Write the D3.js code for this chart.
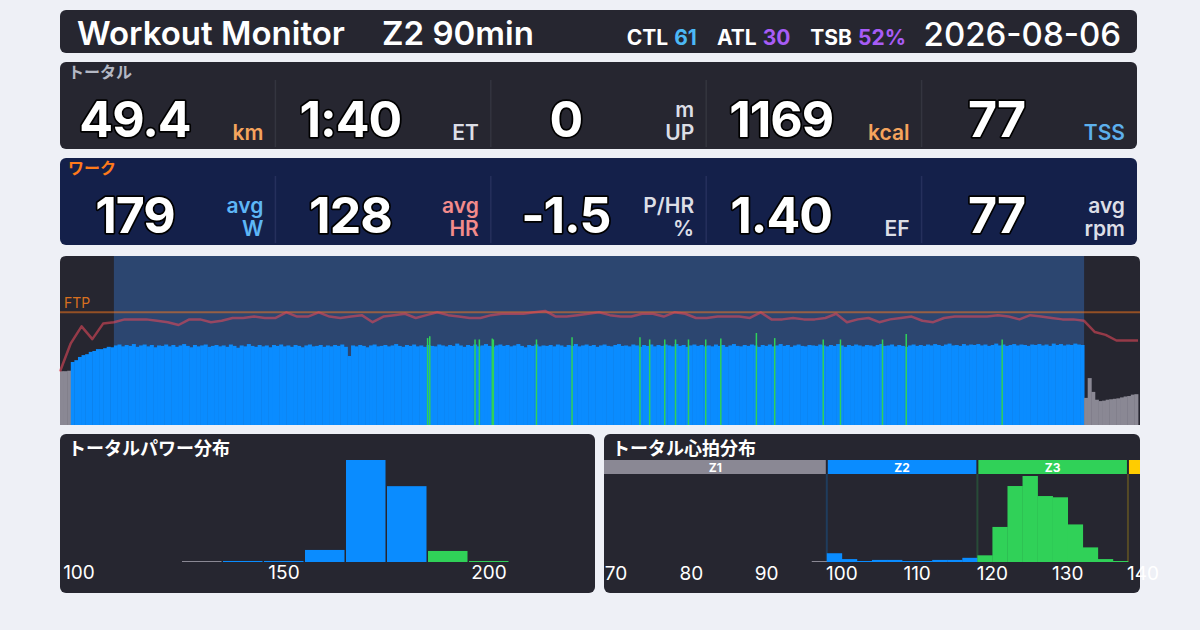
<!DOCTYPE html>
<html>
<head>
<meta charset="utf-8">
<script src="https://cdn.jsdelivr.net/npm/d3@7"></script>
<style>
body { margin: 0; background: #eef0f6; }
svg { display: block; font-family: Inter, "Noto Sans CJK JP", sans-serif; }
</style>
</head>
<body>
<svg width="1200" height="630"></svg>
<script>
// Header data
const title = "Workout Monitor"
const workoutName = "Z2 90min"
const dateLabel = "2026-08-06"
const fitnessKeys = ["CTL", "ATL", "TSB"]
const fitnessValues = ["61", "30", "52%"]
const fitnessColors = ["#4cb8f5", "#a75cf6", "#a75cf6"]

// Stat rows
const totalLabel = "トータル"
const totalValues = ["49.4", "1:40", "0", "1169", "77"]
const totalUnits = [["km"], ["ET"], ["m", "UP"], ["kcal"], ["TSS"]]
const totalUnitColors = ["#f5a45d", "#dcdee6", "#dcdee6", "#f5a45d", "#5db0ec"]

const workLabel = "ワーク"
const workValues = ["179", "128", "-1.5", "1.40", "77"]
const workUnits = [["avg", "W"], ["avg", "HR"], ["P/HR", "%"], ["EF"], ["avg", "rpm"]]
const workUnitColors = ["#5db6f7", "#f28b8b", "#dcdee6", "#dcdee6", "#dcdee6"]

// Ride timeline (minutes)
const totalMinutes = 100
const workStart = 5
const workEnd = 95
const ftp = 245
const powerStep = 1 / 3   // 20 s samples

const powerWatts = [
  117,117,118,137,141,148,152,154,159,161,165,165,167,170,169,
  173,175,171,174,172,176,170,173,175,171,174,169,173,172,175,
  171,174,170,173,176,172,169,174,171,173,175,170,172,174,171,
  173,170,175,172,168,173,171,176,172,170,174,171,173,169,174,
  172,175,171,173,170,174,172,169,173,175,171,172,174,170,173,
  171,174,172,175,170,150,173,171,174,172,169,173,175,171,172,
  174,171,173,176,172,170,174,172,175,171,173,170,174,172,171,
  175,173,171,174,172,177,173,170,174,172,175,171,173,176,172,
  170,173,175,172,174,171,173,176,172,169,174,172,175,171,173,
  172,174,171,175,173,170,174,172,176,171,173,175,172,174,170,
  173,175,172,171,174,176,172,173,171,175,173,170,174,172,175,
  171,174,172,175,173,171,176,172,174,170,173,175,172,174,171,
  173,171,175,172,174,170,173,176,172,171,174,172,175,173,170,
  174,172,175,171,173,176,172,174,170,173,175,172,171,174,173,
  172,175,173,171,174,172,176,173,170,174,172,175,173,171,174,
  173,171,174,176,172,173,175,171,174,172,170,173,175,172,174,
  172,175,173,176,174,172,175,177,173,174,172,176,173,175,174,
  176,173,175,172,174,177,173,175,172,174,176,173,175,174,172,
  175,174,176,173,175,172,177,174,176,173,175,174,177,175,174,
  59,102,72,55,52,53,55,56,57,58,60,62,63,66,67
]

// short efforts above Z2 (minute, watts)
const spikeMinutes = [34.1, 34.3, 38.5, 38.9, 40.1, 40.2, 44.2, 47.5, 53.8, 54.7, 56.1, 57.1, 58.3, 59.9, 61.3, 64.6, 66.3, 70.8, 72.4, 76.3, 78.5, 87.4]
const spikeWatts = [189, 193, 186, 186, 188, 186, 186, 191, 191, 186, 186, 186, 186, 186, 188, 200, 189, 186, 186, 186, 198, 186]

// heart rate, one per minute
const heartRate = [
  88,108,120,111,122,123,125,125,125,124,
  123,121,125,125,123,124,126,126,127,126,
  126,130,127,127,130,127,126,127,128,123,
  127,128,129,126,128,130,128,127,126,126,
  128,129,129,129,130,131,127,127,128,129,
  130,128,127,127,129,129,127,130,129,126,
  126,127,127,127,126,130,125,125,126,125,
  125,126,129,123,125,126,123,125,126,127,
  124,123,126,127,127,127,127,128,127,125,
  128,127,126,125,125,124,116,114,110,110,110
]

// Distributions (% of time)
const powerHistTitle = "トータルパワー分布"
const powerBinEdges = [125, 135, 145, 155, 165, 175, 185, 195, 205]
const powerBinPct = [0.3, 0.5, 0.5, 5.9, 49.9, 37.1, 5.4, 0.5]
const powerTicks = [100, 150, 200]

const hrHistTitle = "トータル心拍分布"
const hrBinEdges = [96, 98, 100, 102, 104, 106, 108, 110, 112, 114, 116, 118, 120, 122, 124, 126, 128, 130, 132, 134, 136, 138]
const hrBinPct = [0.2, 2.1, 0.7, 0.2, 0.5, 0.5, 0.2, 0.2, 0.5, 0.5, 1.0, 1.6, 8.4, 18.2, 20.6, 15.8, 15.5, 9.0, 3.5, 0.7, 0.2]
const hrTicks = [70, 80, 90, 100, 110, 120, 130, 140]
const hrZoneEdges = [98, 118, 138]
const hrZoneNames = ["Z1", "Z2", "Z3", "Z4"]

// Colours
const panelColor = "#262630"
const zoneColors = ["#8a8894", "#0a8cff", "#30d158", "#ffcc00"]
const powerZoneEdges = [ftp * 0.55, ftp * 0.75, ftp * 0.9]

const svg = d3.select("svg")

// Header
svg.append("rect")
  .attr("x", 60).attr("y", 10).attr("width", 1077).attr("height", 43).attr("rx", 6)
  .attr("fill", panelColor)

svg.append("text")
  .attr("x", 77).attr("y", 45)
  .attr("font-size", 33).attr("font-weight", 600).attr("fill", "#fff")
  .text(title)

svg.append("text")
  .attr("x", 382).attr("y", 45)
  .attr("font-size", 33).attr("font-weight", 600).attr("fill", "#fff")
  .text(workoutName)

const fit = svg.append("text")
  .attr("x", 906).attr("y", 45)
  .attr("text-anchor", "end")
  .attr("font-size", 21).attr("font-weight", 700)
fitnessKeys.forEach((k, i) => {
  fit.append("tspan").attr("dx", i ? 20 : 0).attr("fill", "#fff").text(k)
  fit.append("tspan").attr("dx", 6).attr("fill", fitnessColors[i]).text(fitnessValues[i])
})

svg.append("text")
  .attr("x", 1121).attr("y", 46)
  .attr("text-anchor", "end")
  .attr("font-size", 33).attr("font-weight", 500).attr("fill", "#fff")
  .text(dateLabel)

// Stat rows
function statRow(y, bg, divColor, label, labelColor, values, units, unitColors) {
  const g = svg.append("g")
  g.append("rect")
    .attr("x", 60).attr("y", y).attr("width", 1077).attr("height", 87).attr("rx", 6)
    .attr("fill", bg)
  g.append("text")
    .attr("x", 68).attr("y", y + 16)
    .attr("font-size", 16).attr("font-weight", 700).attr("fill", labelColor)
    .text(label)

  const cellW = 1077 / values.length
  values.forEach((v, i) => {
    const cx = 60 + i * cellW
    if (i > 0) {
      g.append("line")
        .attr("x1", cx).attr("x2", cx).attr("y1", y + 18).attr("y2", y + 85)
        .attr("stroke", divColor).attr("stroke-width", 1.5)
    }
    g.append("text")
      .attr("x", cx + 75).attr("y", y + 75)
      .attr("text-anchor", "middle")
      .attr("font-size", 50).attr("font-weight", 700)
      .attr("letter-spacing", -1)
      .attr("fill", "#fff").attr("stroke", "#000").attr("stroke-width", 3.5)
      .attr("stroke-linejoin", "round").attr("paint-order", "stroke")
      .text(v)
    const u = units[i]
    u.forEach((s, j) => {
      g.append("text")
        .attr("x", cx + cellW - 12).attr("y", y + 78 - (u.length - 1 - j) * 23)
        .attr("text-anchor", "end")
        .attr("font-size", 21).attr("font-weight", 600)
        .attr("fill", unitColors[i])
        .text(s)
    })
  })
}

statRow(62, panelColor, "#34353f", totalLabel, "#b4b8c4", totalValues, totalUnits, totalUnitColors)
statRow(158, "#14204a", "#25305c", workLabel, "#ff7a1a", workValues, workUnits, workUnitColors)

// Ride chart
const chartTop = 256, chartBottom = 425, chartLeft = 60, chartRight = 1140
const xT = d3.scaleLinear().domain([0, totalMinutes]).range([60, 1138])
const yP = d3.scaleLinear().domain([0, ftp * 1.5]).range([chartBottom, chartTop])
const yH = d3.scaleLinear().domain([50, 170]).range([chartBottom, chartTop])

const ride = svg.append("g")
const r = 6
ride.append("path")
  .attr("d", `M${chartLeft},${chartBottom}V${chartTop + r}Q${chartLeft},${chartTop} ${chartLeft + r},${chartTop}` +
    `H${chartRight - r}Q${chartRight},${chartTop} ${chartRight},${chartTop + r}V${chartBottom}Z`)
  .attr("fill", panelColor)

ride.append("rect")
  .attr("x", xT(workStart)).attr("y", chartTop)
  .attr("width", xT(workEnd) - xT(workStart)).attr("height", chartBottom - chartTop)
  .attr("fill", "#2c4670")

function powerColor(w) {
  return zoneColors[d3.bisectRight(powerZoneEdges, w)]
}

const barW = xT(powerStep) - xT(0)
ride.append("g")
  .selectAll("rect")
  .data(powerWatts)
  .join("rect")
  .attr("x", (d, i) => xT(i * powerStep))
  .attr("y", d => yP(d))
  .attr("width", barW + 0.4)
  .attr("height", d => chartBottom - yP(d))
  .attr("fill", d => powerColor(d))

ride.append("g")
  .selectAll("line")
  .data(spikeMinutes)
  .join("line")
  .attr("x1", d => xT(d)).attr("x2", d => xT(d))
  .attr("y1", chartBottom)
  .attr("y2", (d, i) => yP(spikeWatts[i]))
  .attr("stroke", (d, i) => powerColor(spikeWatts[i]))
  .attr("stroke-width", 1.5)

// FTP reference
ride.append("line")
  .attr("x1", chartLeft).attr("x2", chartRight)
  .attr("y1", yP(ftp)).attr("y2", yP(ftp))
  .attr("stroke", "#ff7a1a").attr("stroke-opacity", 0.5).attr("stroke-width", 2)

ride.append("text")
  .attr("x", 64).attr("y", yP(ftp) - 4)
  .attr("font-size", 14).attr("fill", "#d9701f")
  .text("FTP")

const hrLine = d3.line()
  .x((d, i) => xT(i))
  .y(d => yH(d))

ride.append("path")
  .datum(heartRate)
  .attr("d", hrLine)
  .attr("fill", "none")
  .attr("stroke", "#e04858").attr("stroke-opacity", 0.6).attr("stroke-width", 2.5)
  .attr("stroke-linejoin", "round")

// Histogram panels
function histPanel(x0, x1, label) {
  const g = svg.append("g")
  g.append("rect")
    .attr("x", x0).attr("y", 434).attr("width", x1 - x0).attr("height", 159).attr("rx", 6)
    .attr("fill", panelColor)
  g.append("text")
    .attr("x", x0 + 8).attr("y", 455)
    .attr("font-size", 18).attr("font-weight", 700).attr("fill", "#fff")
    .text(label)
  return g
}

const histBase = 562

// Power distribution
const pg = histPanel(60, 595, powerHistTitle)
const xPw = d3.scaleLinear().domain([100, 200]).range([79, 489])
const yPw = d3.scaleLinear().domain([0, d3.max(powerBinPct)]).range([histBase, 460])

pg.append("g")
  .selectAll("rect")
  .data(powerBinPct)
  .join("rect")
  .attr("x", (d, i) => xPw(powerBinEdges[i]) + 0.5)
  .attr("width", (d, i) => xPw(powerBinEdges[i + 1]) - xPw(powerBinEdges[i]) - 1.5)
  .attr("y", d => Math.min(yPw(d), histBase - 1))
  .attr("height", d => Math.max(1, histBase - yPw(d)))
  .attr("fill", (d, i) => powerColor(powerBinEdges[i]))

pg.append("g")
  .selectAll("text")
  .data(powerTicks)
  .join("text")
  .attr("x", d => xPw(d)).attr("y", 579)
  .attr("text-anchor", "middle")
  .attr("font-size", 19).attr("fill", "#fff")
  .text(d => d)

// Heart rate distribution
const hg = histPanel(604, 1140, hrHistTitle)
const xHr = d3.scaleLinear().domain([70, 140]).range([616, 1143])
const yHr = d3.scaleLinear().domain([0, d3.max(hrBinPct)]).range([histBase, 476])

const zoneStarts = [604].concat(hrZoneEdges.map(d => xHr(d)))
const zoneEnds = hrZoneEdges.map(d => xHr(d)).concat([1140])

hg.append("g")
  .selectAll("rect")
  .data(hrZoneNames)
  .join("rect")
  .attr("x", (d, i) => zoneStarts[i] + (i ? 1 : 0))
  .attr("width", (d, i) => zoneEnds[i] - zoneStarts[i] - (i ? 1 : 0) - (i < 3 ? 1 : 0))
  .attr("y", 460).attr("height", 14)
  .attr("fill", (d, i) => zoneColors[i])

hg.append("g")
  .selectAll("text")
  .data(hrZoneNames.slice(0, 3))
  .join("text")
  .attr("x", (d, i) => (zoneStarts[i] + zoneEnds[i]) / 2)
  .attr("y", 472)
  .attr("text-anchor", "middle")
  .attr("font-size", 12).attr("font-weight", 700).attr("fill", "#fff")
  .text(d => d)

hg.append("g")
  .selectAll("line")
  .data(hrZoneEdges)
  .join("line")
  .attr("x1", d => xHr(d)).attr("x2", d => xHr(d))
  .attr("y1", 474).attr("y2", histBase)
  .attr("stroke", (d, i) => zoneColors[i + 1]).attr("stroke-opacity", 0.22).attr("stroke-width", 2)

function hrColor(h) {
  return zoneColors[d3.bisectRight(hrZoneEdges, h)]
}

hg.append("g")
  .selectAll("rect")
  .data(hrBinPct)
  .join("rect")
  .attr("x", (d, i) => xHr(hrBinEdges[i]))
  .attr("width", (d, i) => xHr(hrBinEdges[i + 1]) - xHr(hrBinEdges[i]) + 0.3)
  .attr("y", d => Math.min(yHr(d), histBase - 1))
  .attr("height", d => Math.max(1, histBase - yHr(d)))
  .attr("fill", (d, i) => hrColor(hrBinEdges[i]))

hg.append("g")
  .selectAll("text")
  .data(hrTicks)
  .join("text")
  .attr("x", d => xHr(d)).attr("y", 580)
  .attr("text-anchor", "middle")
  .attr("font-size", 19).attr("fill", "#fff")
  .text(d => d)
</script>
</body>
</html>
